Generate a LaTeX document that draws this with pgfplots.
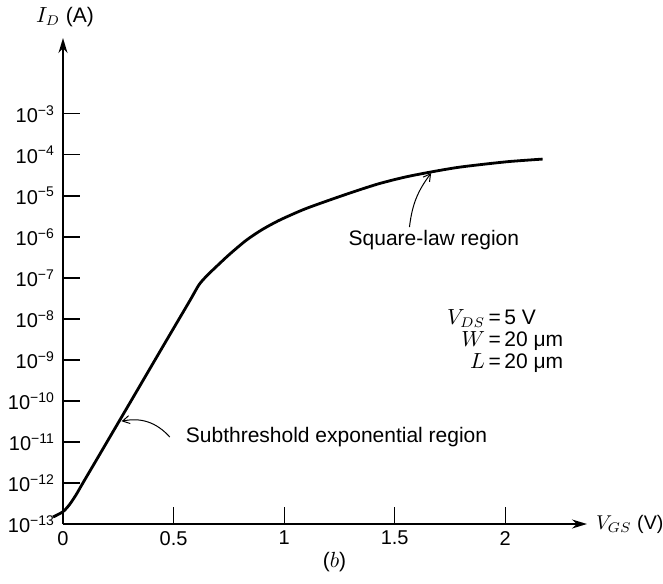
\documentclass[border=0pt]{standalone}
\usepackage{pgfplots}
\pgfplotsset{compat=1.18}
\usepackage{fontspec}
\setmainfont{Liberation Sans}
\usetikzlibrary{arrows.meta}

\begin{document}
\begin{tikzpicture}
\useasboundingbox (-31.5pt,-29.5pt) rectangle (300pt,262pt);
\begin{axis}[
    scale only axis,
    width=262pt, height=243pt,
    ymode=log,
    xmin=0, xmax=2.37,
    ymin=1e-13, ymax=7.08e-2,
    enlargelimits=false,
    clip=false,
    axis lines=left,
    axis line style={line width=0.9pt, -{Stealth[length=7.5pt,width=4.5pt]}},
    tick align=inside,
    major tick length=8.5pt,
    tick style={line width=0.6pt, black},
    yminorticks=false,
    xtick={0,0.5,1,1.5,2},
    xticklabels={0,0.5,1,1.5,2},
    ytick={1e-13,1e-12,1e-11,1e-10,1e-9,1e-8,1e-7,1e-6,1e-5,1e-4,1e-3},
    yticklabels={10\textsuperscript{−13},10\textsuperscript{−12},10\textsuperscript{−11},
      10\textsuperscript{−10},10\textsuperscript{−9},10\textsuperscript{−8},10\textsuperscript{−7},
      10\textsuperscript{−6},10\textsuperscript{−5},10\textsuperscript{−4},10\textsuperscript{−3}},
    tick label style={font=\fontsize{10}{12}\selectfont},
    yticklabel style={xshift=-0.5pt},
]
\addplot[black, line width=1.4pt, smooth, tension=0.45] coordinates {
  (-0.045,1.48e-13) (0,2.0e-13) (0.03,3.0e-13) (0.06,5.25e-13) (0.09,1.0e-12)
  (0.15,3.55e-12) (0.212,1.32e-11) (0.30,8.5e-11) (0.40,7.1e-10)
  (0.468,3.0e-9) (0.573,2.75e-8) (0.615,6.8e-8) (0.65,1.12e-7)
  (0.694,1.9e-7) (0.754,3.8e-7) (0.829,8.3e-7) (0.90,1.5e-6)
  (0.980,2.57e-6) (1.09,4.7e-6) (1.205,7.9e-6) (1.32,1.29e-5)
  (1.431,2.0e-5) (1.55,2.9e-5) (1.672,3.9e-5) (1.78,4.9e-5)
  (1.883,5.75e-5) (2.02,6.9e-5) (2.169,7.9e-5)
};

\node[anchor=center, xshift=1pt, yshift=10.5pt, font=\fontsize{10.5}{12}\selectfont]
  at (rel axis cs:0,1) {$I_D$ (A)};
\node[anchor=west, xshift=1pt, font=\fontsize{9.8}{12}\selectfont]
  at (rel axis cs:1,0) {$V_{GS}$ (V)};
\node[yshift=-19pt, font=\fontsize{10.5}{12}\selectfont] at (axis cs:1.228,1e-13) {($b$)};

\node[anchor=west, font=\fontsize{10.5}{12}\selectfont] at (axis cs:1.26,8.5e-7) {Square-law region};
\draw[line width=0.5pt, -{Straight Barb[length=3.5pt,width=4pt]}]
  (axis cs:1.567,1.74e-6) to[bend left=15] (axis cs:1.665,3.6e-5);

\node[anchor=west, font=\fontsize{10.5}{12}\selectfont] at (axis cs:0.524,1.32e-11) {Subthreshold exponential region};
\draw[line width=0.5pt, -{Straight Barb[length=3.5pt,width=4pt]}]
  (axis cs:0.483,1.32e-11) to[bend right=30] (axis cs:0.265,3.2e-11);

\node[font=\fontsize{10.5}{11}\selectfont] at (axis cs:2.0,2.75e-9) {%
  \begin{tabular}{@{}r@{\,=\,}l@{}}
  $V_{DS}$ & 5 V\\
  $W$ & 20 μm\\
  $L$ & 20 μm
  \end{tabular}};
\end{axis}
\end{tikzpicture}
\end{document}
